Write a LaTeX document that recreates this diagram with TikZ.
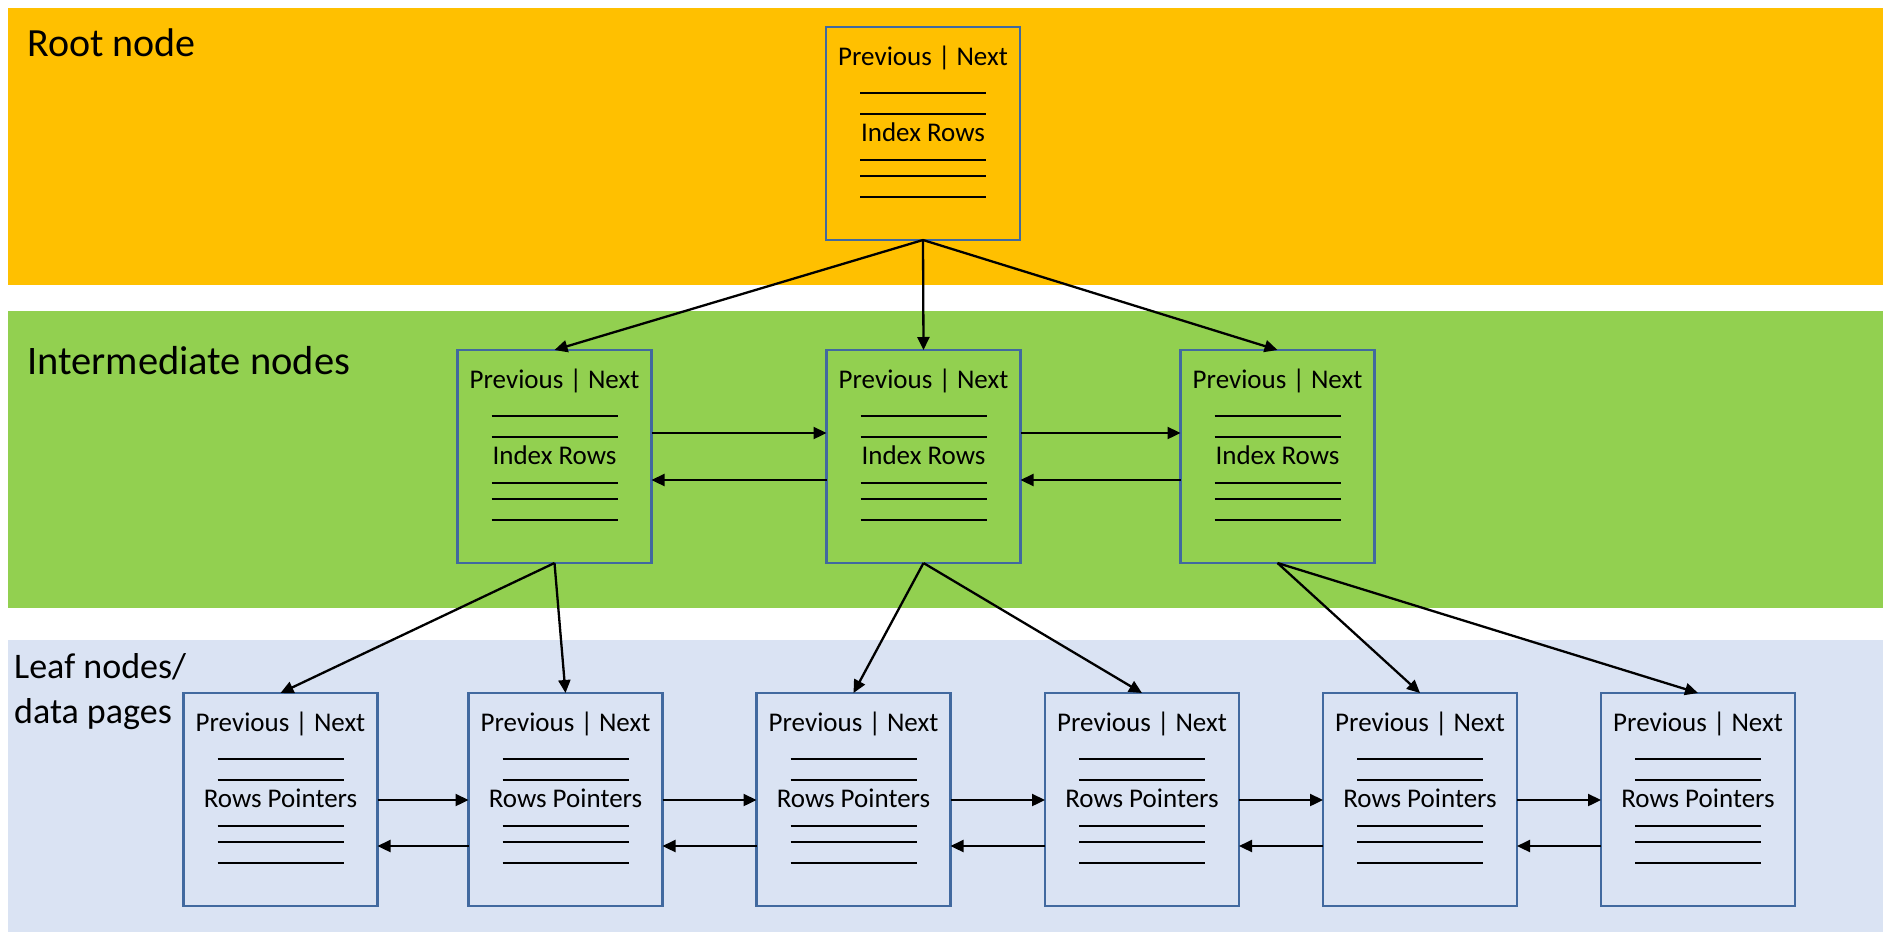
\documentclass[tikz,border=0pt]{standalone}
\usepackage{fontspec}
\setmainfont{Carlito}
\usetikzlibrary{arrows.meta}

\definecolor{rootband}{HTML}{FFC000}
\definecolor{midband}{HTML}{92D050}
\definecolor{leafband}{HTML}{DAE3F3}
\definecolor{pageedge}{HTML}{41699F}

\tikzset{
  pagebox/.style={draw=pageedge, line width=2.2pt, minimum width=194pt,
    minimum height=213pt, inner sep=0pt, outer sep=0pt},
  boxtext/.style={anchor=base, inner sep=0pt, font=\fontsize{27}{32}\selectfont},
  rowline/.style={line width=2.8pt},
  arr/.style={line width=2.3pt, -{Triangle[length=13pt,width=12pt]}},
  bandlabel/.style={anchor=base west, inner sep=0pt, align=left}
}

% one index / data page: header, two rules, caption, three rules
\newcommand{\bpage}[4]{%
  \node[pagebox] (#1) at (#2,#3) {};
  \node[boxtext] (#1-head) at ([shift={(0,38)}]#1.north) {Previous | Next};
  \node[boxtext] (#1-body) at ([shift={(0,114)}]#1.north) {#4};
  \foreach \dy in {66,87,133,149,170}
    \draw[rowline] ([shift={(-63,\dy)}]#1.north) -- ([shift={(63,\dy)}]#1.north);
}

\begin{document}
\begin{tikzpicture}[x=1pt, y=-1pt]
\useasboundingbox (0,0) rectangle (1887,932);

% level bands
\fill[rootband] (8,8) rectangle (1883,285);
\fill[midband]  (8,311) rectangle (1883,608);
\fill[leafband] (8,640) rectangle (1883,932);

% band captions
\node[bandlabel, font=\fontsize{40}{48}\selectfont] (lblroot) at (27,56) {Root node};
\node[bandlabel, font=\fontsize{40.5}{48}\selectfont] (lblmid) at (27,374) {Intermediate nodes};
\node[bandlabel, anchor=north west, font=\fontsize{36}{45}\selectfont] (lblleaf) at (14,653) {Leaf nodes/\\data pages};

% pages
\bpage{R}{923}{133.5}{Index Rows}
\bpage{I1}{554.5}{456.5}{Index Rows}
\bpage{I2}{923.5}{456.5}{Index Rows}
\bpage{I3}{1277.5}{456.5}{Index Rows}
\bpage{L1}{280.5}{799.5}{Rows Pointers}
\bpage{L2}{565.5}{799.5}{Rows Pointers}
\bpage{L3}{853.5}{799.5}{Rows Pointers}
\bpage{L4}{1142}{799.5}{Rows Pointers}
\bpage{L5}{1420}{799.5}{Rows Pointers}
\bpage{L6}{1698}{799.5}{Rows Pointers}

% parent to child pointers
\foreach \p/\c in {R/I1, R/I2, R/I3, I1/L1, I1/L2, I2/L3, I2/L4, I3/L5, I3/L6}
  \draw[arr] (\p.south) -- (\c.north);

% sibling links, intermediate level
\foreach \a/\b in {I1/I2, I2/I3} {
  \draw[arr] ([yshift=23.5pt]\a.east) -- ([yshift=23.5pt]\b.west);
  \draw[arr] ([yshift=-23.5pt]\b.west) -- ([yshift=-23.5pt]\a.east);
}

% sibling links, leaf level
\foreach \a/\b in {L1/L2, L2/L3, L3/L4, L4/L5, L5/L6} {
  \draw[arr] ([yshift=-0.5pt]\a.east) -- ([yshift=-0.5pt]\b.west);
  \draw[arr] ([yshift=-46.5pt]\b.west) -- ([yshift=-46.5pt]\a.east);
}
\end{tikzpicture}
\end{document}
